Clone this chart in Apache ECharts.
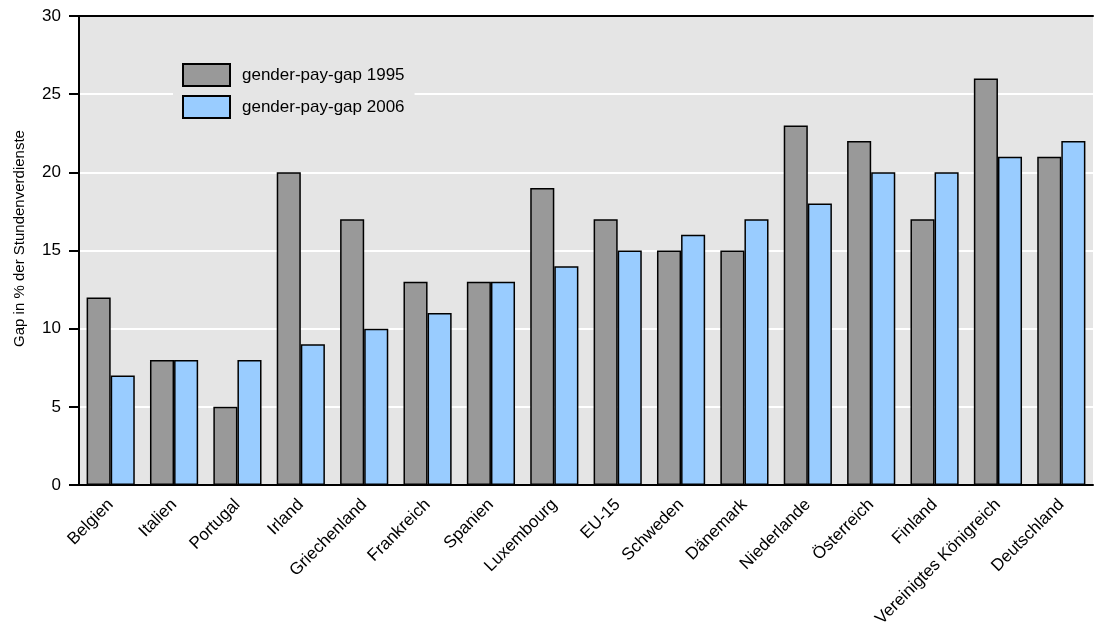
<!DOCTYPE html>
<html><head><meta charset="utf-8">
<script src="https://cdn.jsdelivr.net/npm/echarts@6/dist/echarts.min.js"></script>
<style>html,body{margin:0;padding:0;background:#fff}#c{width:1095px;height:626px}</style>
</head><body><div id="c"></div>
<script>
const categories = ["Belgien","Italien","Portugal","Irland","Griechenland","Frankreich","Spanien","Luxembourg","EU-15","Schweden","Dänemark","Niederlande","Österreich","Finland","Vereinigtes Königreich","Deutschland"];
const gap1995 = [12,8,5,20,17,13,13,19,17,15,15,23,22,17,26,21];
const gap2006 = [7,8,8,9,10,11,13,14,15,16,17,18,20,20,21,22];
const yTicks = {min:0, max:30, interval:5};

const chart = echarts.init(document.getElementById('c'));
const font = '"Liberation Sans", Arial, sans-serif';
chart.setOption({
  animation:false,
  textStyle:{fontFamily:font},
  grid:{left:79,right:2,top:16,bottom:141,show:true,backgroundColor:'#e5e5e5',borderWidth:0,
        containLabel:false,outerBoundsMode:'none'},
  legend:{
    orient:'vertical',left:173,top:55,itemWidth:47,itemHeight:22,itemGap:8,icon:'rect',
    backgroundColor:'#e5e5e5',padding:[8,10,6,9],
    textStyle:{fontSize:17,color:'#000',fontFamily:font,padding:[0,0,0,7]},
    data:['gender-pay-gap 1995','gender-pay-gap 2006']
  },
  xAxis:[{
    type:'category',data:categories,
    axisLine:{show:true,lineStyle:{color:'#000',width:2}},
    axisTick:{show:false},
    axisLabel:{rotate:45,fontSize:17,color:'#000',interval:0,margin:17,fontFamily:font}
  },{
    type:'category',data:categories,position:'top',
    axisLine:{show:true,lineStyle:{color:'#000',width:2}},
    axisTick:{show:false},axisLabel:{show:false}
  }],
  yAxis:{
    type:'value',min:yTicks.min,max:yTicks.max,interval:yTicks.interval,
    name:'Gap in % der Stundenverdienste',nameLocation:'middle',nameGap:52,
    nameTextStyle:{fontSize:15,color:'#000',fontFamily:font,padding:[0,0,0,24]},
    axisLine:{show:true,lineStyle:{color:'#000',width:2}},
    axisTick:{show:true,length:10,lineStyle:{color:'#000',width:2}},
    axisLabel:{fontSize:17,color:'#000',margin:18,fontFamily:font},
    splitLine:{show:true,lineStyle:{color:'#ffffff',width:2}}
  },
  series:[{
    name:'gender-pay-gap 1995',type:'bar',data:gap1995,barGap:'0%',barCategoryGap:'24%',
    itemStyle:{color:'#999999',borderColor:'#000',borderWidth:1.5}
  },{
    name:'gender-pay-gap 2006',type:'bar',data:gap2006,barGap:'0%',barCategoryGap:'24%',
    itemStyle:{color:'#99ccff',borderColor:'#000',borderWidth:1.5}
  }]
});
</script></body></html>
